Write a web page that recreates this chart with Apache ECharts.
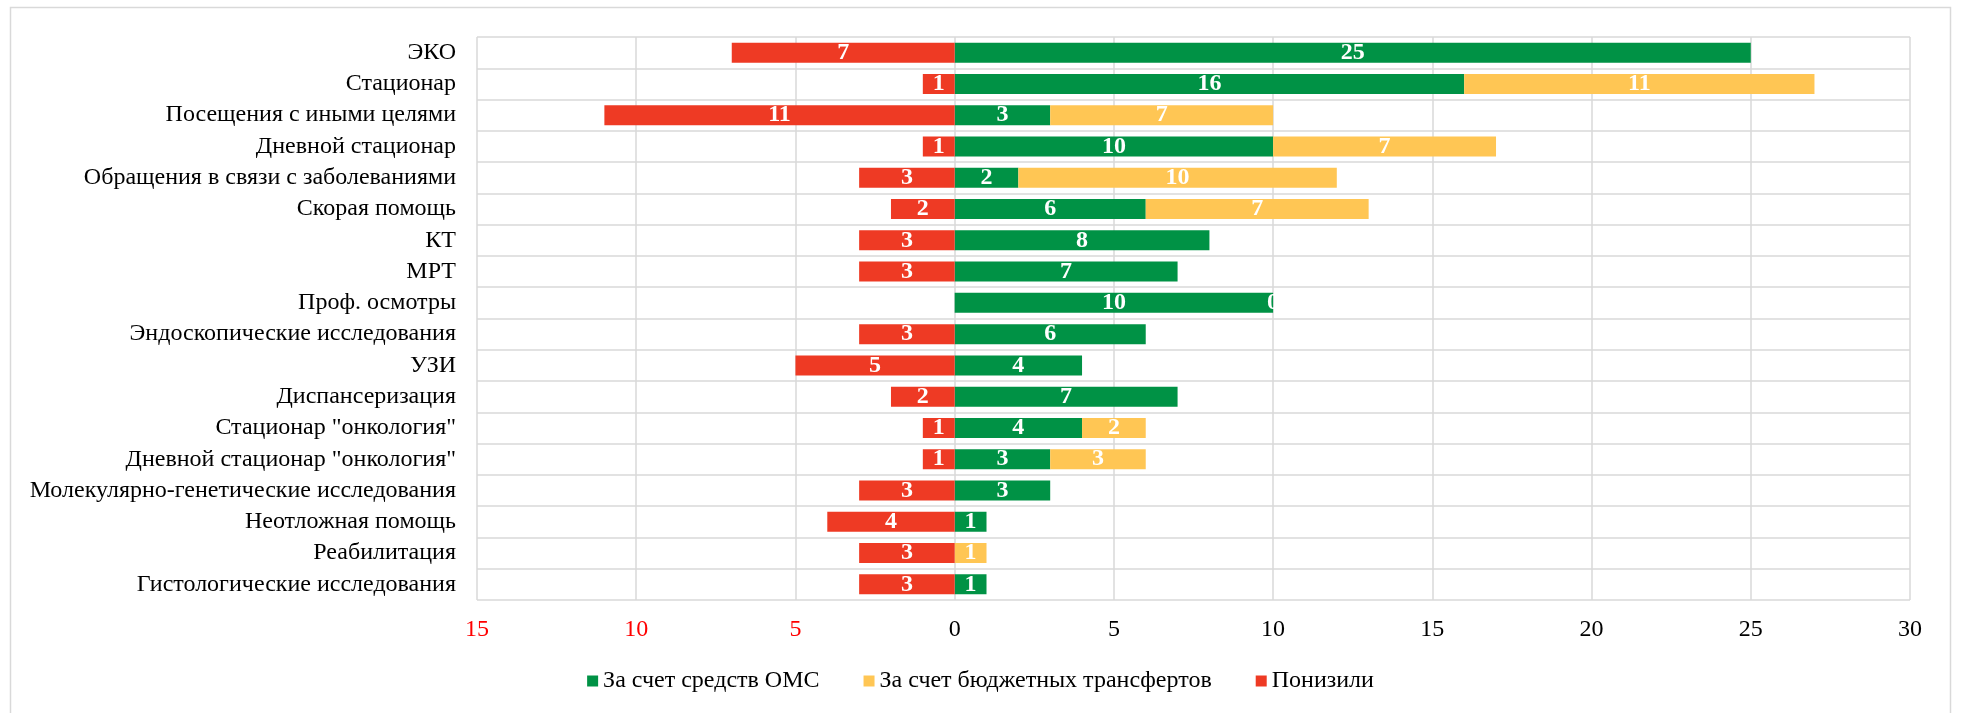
<!DOCTYPE html>
<html>
<head>
<meta charset="utf-8">
<script src="https://cdn.jsdelivr.net/npm/echarts@6/dist/echarts.min.js"></script>
<style>
  html, body { margin: 0; padding: 0; background: #fff; }
  #chart { width: 1961px; height: 713px; }
</style>
</head>
<body>
<div id="chart"></div>
<script>
// Services, top to bottom
const categories = [
  'ЭКО',
  'Стационар',
  'Посещения с иными целями',
  'Дневной стационар',
  'Обращения в связи с заболеваниями',
  'Скорая помощь',
  'КТ',
  'МРТ',
  'Проф. осмотры',
  'Эндоскопические исследования',
  'УЗИ',
  'Диспансеризация',
  'Стационар "онкология"',
  'Дневной стационар "онкология"',
  'Молекулярно-генетические исследования',
  'Неотложная помощь',
  'Реабилитация',
  'Гистологические исследования'
];

// Raised at the expense of compulsory medical insurance funds
const omsValues    = [25, 16, 3, 10, 2, 6, 8, 7, 10, 6, 4, 7, 4, 3, 3, 1, null, 1];
// Raised at the expense of budget transfers
const budgetValues = [null, 11, 7, 7, 10, 7, null, null, 0, null, null, null, 2, 3, null, null, 1, null];
// Lowered (drawn to the left of zero)
const loweredValues = [7, 1, 11, 1, 3, 2, 3, 3, null, 3, 5, 2, 1, 1, 3, 4, 3, 3];

const seriesNames = ['За счет средств ОМС', 'За счет бюджетных трансфертов', 'Понизили'];
const axisTicks = [-15, -10, -5, 0, 5, 10, 15, 20, 25, 30];

const FONT = '"Liberation Serif", "Times New Roman", serif';
const GREEN = '#009245';
const YELLOW = '#FFC654';
const RED = '#EE3A24';
const GRID_COLOR = '#d9d9d9';

const barLabel = {
  show: true,
  position: 'inside',
  color: '#ffffff',
  fontFamily: FONT,
  fontWeight: 'bold',
  fontSize: 24,
  formatter: p => Math.abs(p.value)
};

const chart = echarts.init(document.getElementById('chart'), null, { renderer: 'canvas' });

chart.setOption({
  backgroundColor: '#ffffff',
  animation: false,
  graphic: [{
    type: 'rect',
    shape: { x: 10.5, y: 7.5, width: 1940, height: 720 },
    style: { fill: 'none', stroke: GRID_COLOR, lineWidth: 1.5 },
    silent: true,
    z: -10
  }],
  grid: { left: 477, right: 51, top: 37, bottom: 113, containLabel: false },
  legend: {
    bottom: 15,
    left: 'center',
    itemWidth: 11,
    itemHeight: 11,
    itemGap: 44,
    icon: 'rect',
    textStyle: { fontFamily: FONT, fontSize: 24, color: '#000' },
    data: seriesNames
  },
  xAxis: {
    type: 'value',
    min: axisTicks[0],
    max: axisTicks[axisTicks.length - 1],
    interval: 5,
    axisLine: { show: false },
    axisTick: { show: false },
    splitLine: { show: true, lineStyle: { color: GRID_COLOR, width: 1.5 } },
    axisLabel: {
      margin: 18,
      fontFamily: FONT,
      fontSize: 24,
      formatter: v => String(Math.abs(v)),
      color: v => (v < 0 ? '#FF0000' : '#000000')
    }
  },
  yAxis: {
    type: 'category',
    inverse: true,
    data: categories,
    axisLine: { show: false },
    axisTick: { show: false },
    splitLine: { show: true, interval: 0, lineStyle: { color: GRID_COLOR, width: 1.5 } },
    axisLabel: {
      margin: 21,
      interval: 0,
      fontFamily: FONT,
      fontSize: 24,
      color: '#000'
    }
  },
  series: [
    {
      name: seriesNames[0],
      type: 'bar',
      stack: 'total',
      barCategoryGap: '36%',
      itemStyle: { color: GREEN },
      label: barLabel,
      data: omsValues
    },
    {
      name: seriesNames[1],
      type: 'bar',
      stack: 'total',
      barCategoryGap: '36%',
      itemStyle: { color: YELLOW },
      label: barLabel,
      data: budgetValues
    },
    {
      name: seriesNames[2],
      type: 'bar',
      stack: 'total',
      barCategoryGap: '36%',
      itemStyle: { color: RED },
      label: barLabel,
      data: loweredValues.map(v => (v == null ? null : -v))
    }
  ]
});
</script>
</body>
</html>
